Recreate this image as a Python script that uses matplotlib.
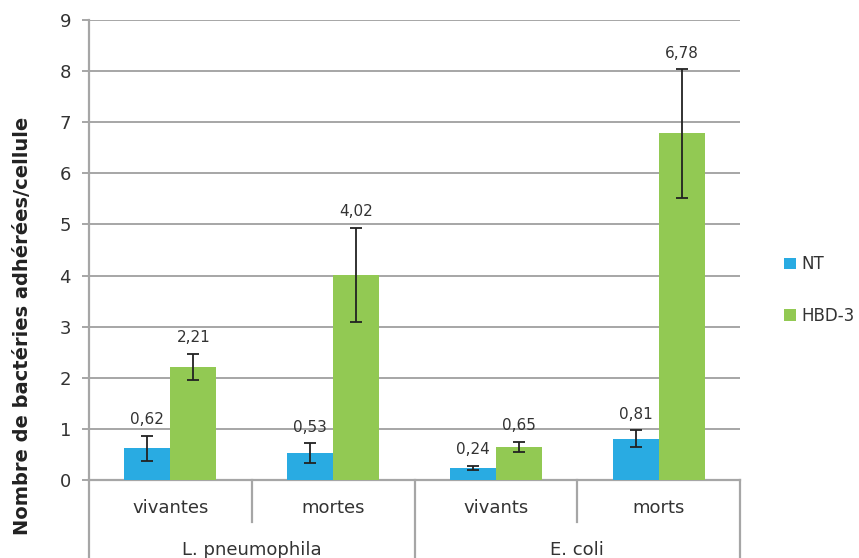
import numpy as np
import matplotlib.pyplot as plt
import matplotlib.transforms as mtransforms

plt.rcParams['font.family'] = ['DejaVu Sans']

# data
categories = ['vivantes', 'mortes', 'vivants', 'morts']
groups = ['L. pneumophila', 'E. coli']
nt_vals = [0.62, 0.53, 0.24, 0.81]
nt_err = [0.25, 0.19, 0.04, 0.16]
hbd_vals = [2.21, 4.02, 0.65, 6.78]
hbd_err = [0.26, 0.92, 0.10, 1.26]
nt_labels = ['0,62', '0,53', '0,24', '0,81']
hbd_labels = ['2,21', '4,02', '0,65', '6,78']

c_nt = '#29abe2'
c_hbd = '#92c953'
grid_c = '#a6a6a6'
txt_c = '#333333'

fig = plt.figure(figsize=(8.59, 5.58), dpi=100)
ax = fig.add_axes([89/859, 1-480/558, (740-89)/859, 460/558])

x = np.arange(len(categories))
w = 0.283
ax.bar(x - w/2, nt_vals, w, color=c_nt, label='NT', zorder=3)
ax.bar(x + w/2, hbd_vals, w, color=c_hbd, label='HBD-3', zorder=3)
ax.errorbar(x - w/2, nt_vals, yerr=nt_err, fmt='none', ecolor='#222222',
            elinewidth=1.3, capsize=4.5, capthick=1.3, zorder=4)
ax.errorbar(x + w/2, hbd_vals, yerr=hbd_err, fmt='none', ecolor='#222222',
            elinewidth=1.3, capsize=4.5, capthick=1.3, zorder=4)

for xi, v, e, t in zip(x - w/2, nt_vals, nt_err, nt_labels):
    ax.annotate(t, (xi, v + e), xytext=(0, 6), textcoords='offset points',
                ha='center', va='bottom', fontsize=11, color=txt_c)
for xi, v, e, t in zip(x + w/2, hbd_vals, hbd_err, hbd_labels):
    ax.annotate(t, (xi, v + e), xytext=(0, 6), textcoords='offset points',
                ha='center', va='bottom', fontsize=11, color=txt_c)

ax.set_xlim(-0.5, 3.5)
ax.set_ylim(0, 9)
ax.set_yticks(range(10))
ax.yaxis.grid(True, color=grid_c, linewidth=1.4, zorder=0)
ax.tick_params(axis='y', length=5, width=1.4, color=grid_c, labelsize=13,
               labelcolor=txt_c, pad=8)
ax.set_xticks([])
for s in ['top', 'right']:
    ax.spines[s].set_visible(False)
ax.spines['left'].set_color(grid_c)
ax.spines['left'].set_linewidth(1.6)
ax.spines['bottom'].set_color(grid_c)
ax.spines['bottom'].set_linewidth(1.6)

# two-level category axis
trans = mtransforms.blended_transform_factory(ax.transData, ax.transAxes)
for b in [0.5, 2.5]:
    ax.plot([b, b], [0, -42/460], color=grid_c, lw=1.6, transform=trans, clip_on=False)
for b in [-0.5, 1.5, 3.5]:
    ax.plot([b, b], [0, -80/460], color=grid_c, lw=1.6, transform=trans, clip_on=False)
for xi, c in zip(x, categories):
    ax.text(xi, -28/460, c, transform=trans, ha='center', va='center',
            fontsize=13, color=txt_c)
for gi, g in enumerate(groups):
    ax.text(2*gi + 0.5, -70/460, g, transform=trans, ha='center', va='center',
            fontsize=13, color=txt_c)

ax.set_ylabel('Nombre de bactéries adhérées/cellule', fontsize=14,
              fontweight='bold', color='#222222')
ax.yaxis.set_label_coords(-0.088, 0.335)

ax.legend(loc='center left', bbox_to_anchor=(1.045, 0.413), frameon=False,
          fontsize=12, handlelength=0.7, handleheight=0.7, handletextpad=0.3,
          labelspacing=2.0, labelcolor=txt_c)

fig.savefig('out.png', dpi=100)
